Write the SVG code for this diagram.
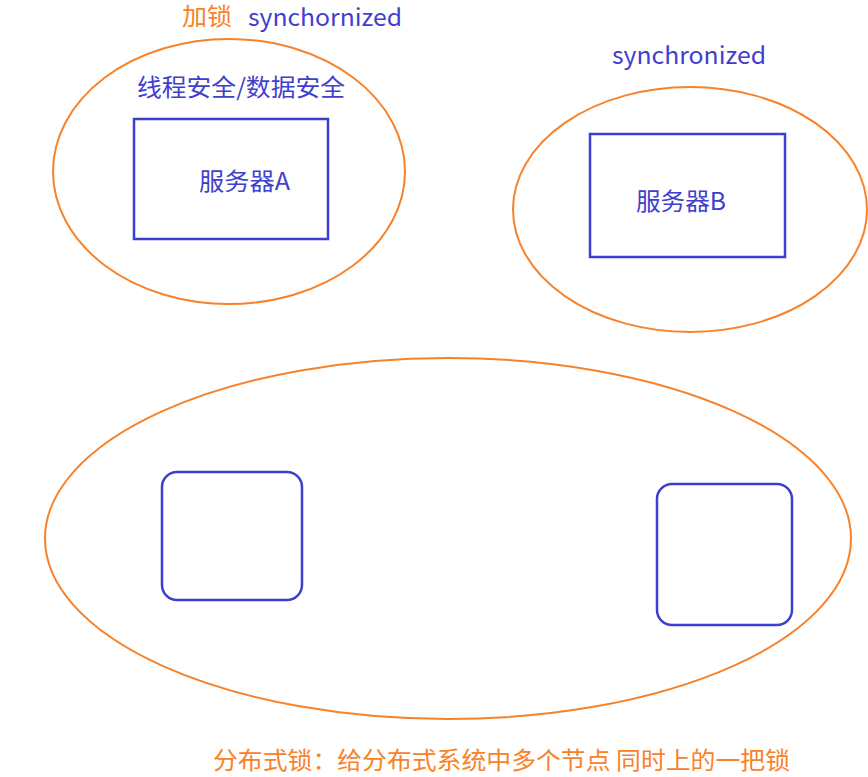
<svg xmlns="http://www.w3.org/2000/svg" width="868" height="777" viewBox="0 0 868 777">
<style>
.ell{fill:none;stroke:#F8822A;stroke-width:2}
.box{fill:none;stroke:#3B3FCF;stroke-width:2.5}
.t{font-family:"Noto Sans CJK SC","Noto Sans",sans-serif;font-size:24px}
.b{fill:#4040D0}
.o{fill:#F8822A}
</style>
<rect width="868" height="777" fill="#fff"/>
<g id="lockA">
<ellipse class="ell" cx="229" cy="171.5" rx="176" ry="132.5"/>
<text class="t o" x="182" y="25" textLength="50" lengthAdjust="spacingAndGlyphs">加锁</text>
<text class="t b" x="248" y="26" textLength="154" lengthAdjust="spacingAndGlyphs">synchornized</text>
<text class="t b" x="137" y="96" textLength="208" lengthAdjust="spacingAndGlyphs">线程安全/数据安全</text>
</g>
<g id="serverA">
<rect class="box" x="134" y="119" width="194" height="120"/>
<text class="t b" x="199" y="190" textLength="91" lengthAdjust="spacingAndGlyphs">服务器A</text>
</g>
<g id="lockB">
<ellipse class="ell" cx="690" cy="209.5" rx="177" ry="122.5"/>
<text class="t b" x="612" y="64" textLength="154" lengthAdjust="spacingAndGlyphs">synchronized</text>
</g>
<g id="serverB">
<rect class="box" x="590" y="134" width="195" height="123"/>
<text class="t b" x="636" y="210" textLength="90" lengthAdjust="spacingAndGlyphs">服务器B</text>
</g>
<g id="distLock">
<ellipse class="ell" cx="448" cy="538.5" rx="403" ry="180.5"/>
<text class="t o" x="213" y="769" textLength="577" lengthAdjust="spacingAndGlyphs">分布式锁：给分布式系统中多个节点 同时上的一把锁</text>
</g>
<g id="node1">
<rect class="box" x="162" y="472" width="140" height="128" rx="15" stroke-width="2"/>
</g>
<g id="node2">
<rect class="box" x="657" y="484" width="135" height="141" rx="15" stroke-width="2"/>
</g>
<g id="connectors"></g>
</svg>
